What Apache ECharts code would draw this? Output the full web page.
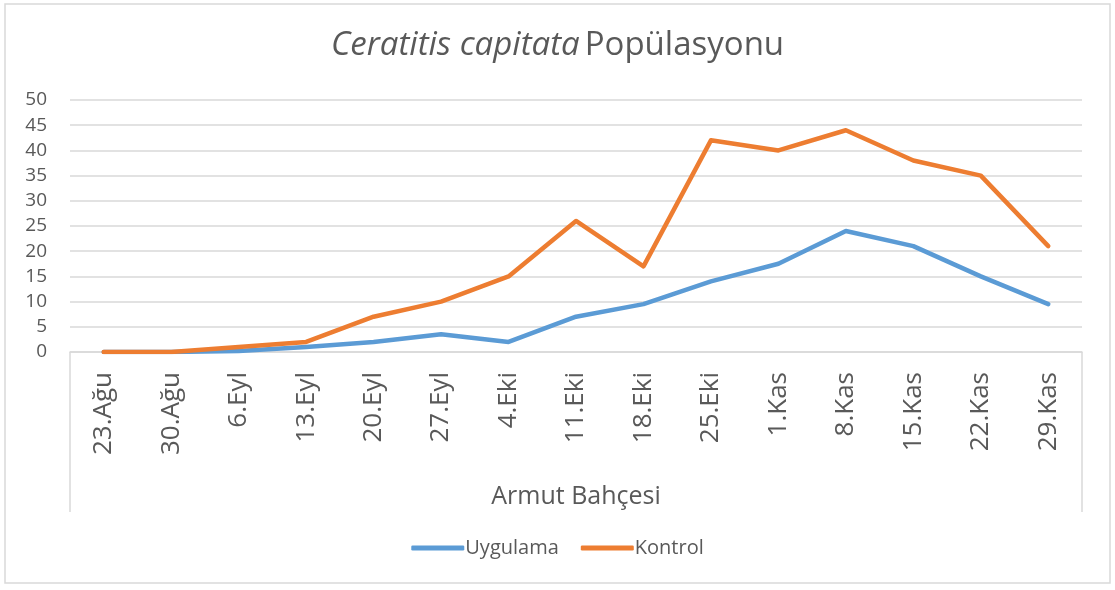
<!DOCTYPE html>
<html>
<head>
<meta charset="utf-8">
<script src="https://cdn.jsdelivr.net/npm/echarts@6/dist/echarts.min.js"></script>
<style>
html,body{margin:0;padding:0;background:#fff;}
#c{width:1115px;height:590px;}
</style>
</head>
<body>
<div id="c"></div>
<script>
const categories = ['23.Ağu','30.Ağu','6.Eyl','13.Eyl','20.Eyl','27.Eyl','4.Eki','11.Eki','18.Eki','25.Eki','1.Kas','8.Kas','15.Kas','22.Kas','29.Kas'];
const uygulama = [0, 0, 0.2, 1, 2, 3.5, 2, 7, 9.5, 14, 17.5, 24, 21, 15, 9.5];
const kontrol = [0, 0, 1, 2, 7, 10, 15, 26, 17, 42, 40, 44, 38, 35, 21];
const yTicks = { min: 0, max: 50, interval: 5 };

const FONT = '"Open Sans", "Noto Sans", sans-serif';
const G = { left: 70, right: 33, top: 100, bottom: 238 };
const chart = echarts.init(document.getElementById('c'), null, { renderer: 'canvas' });
const W = 1115, H = 590;
const gx0 = G.left, gx1 = W - G.right, gy1 = H - G.bottom;

chart.setOption({
  animation: false,
  backgroundColor: '#fff',
  title: {
    text: '{i|Ceratitis capitata} {n|Popülasyonu}',
    left: 'center', top: 24,
    textStyle: {
      fontWeight: 'normal',
      rich: {
        i: { fontFamily: FONT, fontSize: 33, fontStyle: 'italic', fontWeight: 'normal', color: '#595959' },
        n: { fontFamily: FONT, fontSize: 33, fontWeight: 'normal', color: '#595959' }
      }
    }
  },
  legend: {
    bottom: 27, left: 'center',
    itemWidth: 53, itemHeight: 5, itemGap: 22,
    icon: 'roundRect',
    textStyle: { fontFamily: FONT, fontSize: 20, color: '#595959', padding: [0, 0, 0, -4] },
    data: ['Uygulama', 'Kontrol']
  },
  grid: { left: G.left, right: G.right, top: G.top, bottom: G.bottom, containLabel: false },
  xAxis: {
    type: 'category', data: categories, boundaryGap: true,
    axisLine: { lineStyle: { color: '#D9D9D9', width: 1.5 } },
    axisTick: { show: false },
    axisLabel: { rotate: 90, fontFamily: FONT, fontSize: 26, color: '#595959', margin: 20 },
    name: 'Armut Bahçesi', nameLocation: 'middle', nameGap: 132,
    nameTextStyle: { fontFamily: FONT, fontSize: 25, color: '#595959' }
  },
  yAxis: {
    type: 'value', min: yTicks.min, max: yTicks.max, interval: yTicks.interval,
    axisLine: { show: false }, axisTick: { show: false },
    axisLabel: { fontFamily: FONT, fontSize: 19, color: '#595959', margin: 23 },
    splitLine: { lineStyle: { color: '#D9D9D9', width: 1.5 } }
  },
  graphic: [
    { type: 'rect', shape: { x: 5, y: 4, width: 1105, height: 579 }, style: { fill: 'none', stroke: '#D9D9D9', lineWidth: 1.5 }, z: -1 },
    { type: 'line', shape: { x1: gx0, y1: gy1, x2: gx0, y2: 512 }, style: { stroke: '#D9D9D9', lineWidth: 1.5 } },
    { type: 'line', shape: { x1: gx1, y1: gy1, x2: gx1, y2: 512 }, style: { stroke: '#D9D9D9', lineWidth: 1.5 } }
  ],
  series: [
    { name: 'Uygulama', type: 'line', data: uygulama, symbol: 'none', lineStyle: { color: '#5B9BD5', width: 4.5, cap: 'round', join: 'round' }, itemStyle: { color: '#5B9BD5' } },
    { name: 'Kontrol', type: 'line', data: kontrol, symbol: 'none', lineStyle: { color: '#ED7D31', width: 4.5, cap: 'round', join: 'round' }, itemStyle: { color: '#ED7D31' } }
  ]
});
</script>
</body>
</html>
